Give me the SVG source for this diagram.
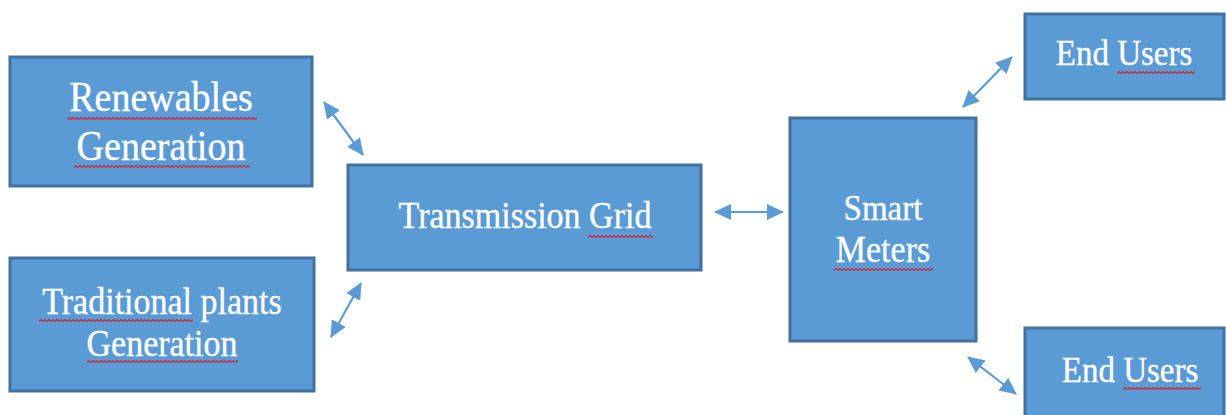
<svg xmlns="http://www.w3.org/2000/svg" width="1226" height="415" viewBox="0 0 1226 415">
  <style>
    .box { fill: #5b9bd5; stroke: #41719c; stroke-width: 3; }
    .lbl { font-family: "Liberation Serif", "Times New Roman", serif; fill: #ffffff; text-anchor: middle; stroke: #ffffff; stroke-width: 0.3; }
    .link { stroke: #5b9bd5; stroke-width: 2.2; fill: none; marker-start: url(#head); marker-end: url(#head); }
    .squiggle { fill: url(#wave); }
  </style>
  <defs>
    <marker id="head" viewBox="0 0 17 16" refX="16" refY="8" markerWidth="17" markerHeight="16" markerUnits="userSpaceOnUse" orient="auto-start-reverse">
      <path d="M0 0 L17 8 L0 16 Z" fill="#5b9bd5"/>
    </marker>
    <!-- red zigzag underline used beneath flagged words -->
    <pattern id="wave" width="4" height="3" patternUnits="userSpaceOnUse">
      <path d="M0 2.5 L2 0.5 L4 2.5" stroke="#d2232a" stroke-width="1.1" fill="none"/>
    </pattern>
  </defs>

  <g id="node-renewables">
    <rect class="box" x="10" y="57" width="302" height="129"/>
    <text class="lbl" font-size="38" transform="translate(161,111) scale(1,1.1)">Renewables</text>
    <text class="lbl" font-size="38" transform="translate(161,160) scale(1,1.1)">Generation</text>
    <rect class="squiggle" x="0" y="0" width="190" height="3" transform="translate(67,117)"/>
    <rect class="squiggle" x="0" y="0" width="176" height="3" transform="translate(74,165)"/>
  </g>

  <g id="node-traditional">
    <rect class="box" x="10" y="258" width="304" height="133"/>
    <text class="lbl" font-size="34" transform="translate(162,314) scale(1,1.1)">Traditional plants</text>
    <text class="lbl" font-size="34" transform="translate(162,356) scale(1,1.1)">Generation</text>
    <rect class="squiggle" x="0" y="0" width="154" height="3" transform="translate(39,319)"/>
    <rect class="squiggle" x="0" y="0" width="151" height="3" transform="translate(87,360)"/>
  </g>

  <g id="node-grid">
    <rect class="box" x="348" y="165" width="353" height="105"/>
    <text class="lbl" font-size="34" transform="translate(525,228) scale(1,1.1)">Transmission Grid</text>
    <rect class="squiggle" x="0" y="0" width="65" height="3" transform="translate(588,235)"/>
  </g>

  <g id="node-meters">
    <rect class="box" x="790" y="118" width="186" height="223"/>
    <text class="lbl" font-size="33" transform="translate(883,220) scale(1,1.1)">Smart</text>
    <text class="lbl" font-size="34" transform="translate(883,262) scale(1,1.1)">Meters</text>
    <rect class="squiggle" x="0" y="0" width="99" height="3" transform="translate(834,268)"/>
  </g>

  <g id="node-users-top">
    <rect class="box" x="1025" y="14" width="199" height="85"/>
    <text class="lbl" font-size="33" transform="translate(1124,65) scale(1,1.1)">End Users</text>
    <rect class="squiggle" x="0" y="0" width="78" height="3" transform="translate(1117,71)"/>
  </g>

  <g id="node-users-bottom">
    <rect class="box" x="1025" y="328" width="199" height="100"/>
    <text class="lbl" font-size="33" transform="translate(1130,382) scale(1,1.1)">End Users</text>
    <rect class="squiggle" x="0" y="0" width="78" height="3" transform="translate(1123,387)"/>
  </g>

  <g id="connectors">
    <line class="link" x1="324" y1="102" x2="363" y2="155"/>
    <line class="link" x1="361" y1="283" x2="331" y2="337"/>
    <line class="link" x1="715" y1="212" x2="783" y2="212"/>
    <line class="link" x1="1012" y1="57" x2="963" y2="107"/>
    <line class="link" x1="968" y1="357" x2="1016" y2="394"/>
  </g>
</svg>
